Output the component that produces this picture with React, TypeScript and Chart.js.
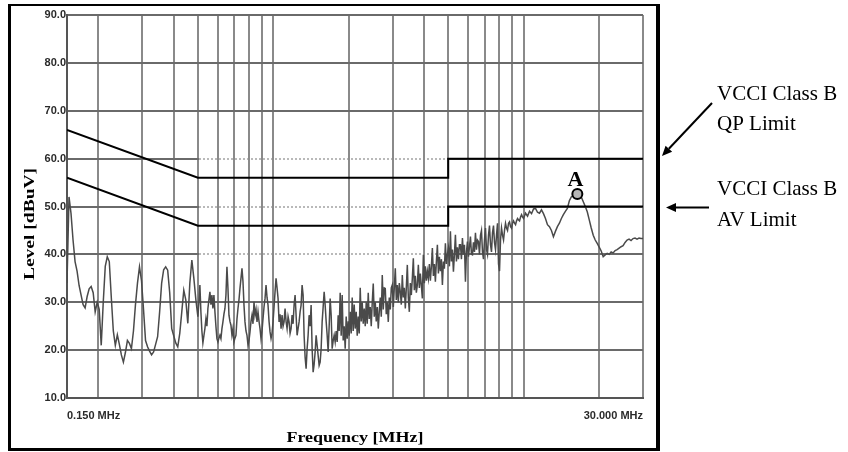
import React, { useEffect, useRef } from 'react';
import { Chart, registerables } from 'chart.js';

Chart.register(...registerables);

// ---- Receiver sweep bands (log sweep inside each band) ----
const BAND_LOW_MHZ = [0.15, 0.5];
const BAND_MID_MHZ = [0.5, 10];
const BAND_HIGH_MHZ = [10, 30];

const LEVELS_LOW = [
  34, 52, 48.5, 43, 38.5, 36.5, 33.5, 31.5, 29.5, 28.8, 31.2, 32.8, 33.3, 32, 28, 30, 28.5,
  21, 30, 37.5, 39.5, 38.5, 31, 24, 21, 23.2, 21.2, 19, 17.5, 19.5, 22, 21.4, 20.3, 24,
  29.5, 34, 37.4, 34.5, 28.5, 22, 20.7, 19.8, 19, 19.6, 21.2, 22.8, 28, 34, 36.8, 37.4,
  36.7, 32, 24.5, 23, 21.5, 20.7, 23.5, 28, 32.5, 30.5, 25.6, 34, 38.8, 35, 30.5, 27,
];
const LEVELS_MID = [
  27, 30, 33.6, 28, 24, 21.5, 23, 24.5, 26.5, 25, 28.7, 30.5, 32.2, 29.5, 31.5, 28.7, 31.5, 28, 25, 22.4,
  21.7, 22.5, 23.1, 22.4, 24.5, 25.9, 27.5, 28.7, 31.5, 37.4, 32.9, 27.3, 26, 25.2, 23.1, 24.5, 21.7, 22.5, 23.1, 26.5,
  28.7, 30.5, 32.9, 35, 37.1, 34.3, 29.4, 25.9, 24, 23.1, 21, 22, 23.8, 26, 27.3, 25.5, 30.1, 27.3, 28.5, 25.9,
  28, 26, 24.5, 22.4, 24, 26.6, 29, 30.8, 33.6, 31, 29.4, 26, 23.8, 22.4, 23.5, 25.9, 29, 32.2, 35, 33,
  30.8, 25.9, 27.5, 24.5, 27.3, 25, 25.9, 28.7, 26, 24.5, 27, 25.9, 23.5, 24.5, 27.3, 25.5, 29.4, 31.5, 27.3, 23.1,
  24.5, 25.9, 28, 29.4, 33.6, 31.5, 23.1, 18.5, 16.1, 20.3, 23.1, 27.3, 25, 29.4, 20.3, 15.4, 17, 19.6, 23.1, 21,
  18.9, 16.8, 17.5, 20.3, 25.9, 29, 32.2, 29.4, 26, 23.1, 19.6, 25, 30.8, 27.3, 20.3, 22, 23.1, 21.7, 24, 21.7,
  27.3, 24, 32, 23, 31.5, 22, 25, 20.3, 27, 22.4, 26, 23, 28, 23.5, 31, 24, 29.5, 24.5, 28, 23,
  27, 23.5, 33, 26, 30, 25.5, 28.7, 25, 30, 25.5, 32, 26.5, 29, 25, 30, 33.9, 27, 30, 26, 29,
  24.5, 28, 31, 27, 35.7, 28.5, 33, 32.9, 27.5, 30, 25.9, 31, 28.5, 33, 33.6, 29, 33, 37.1, 30.5, 33.6,
  30, 34, 32.2, 29.5, 35.7, 31, 33, 28.7, 33, 37.8, 31, 28, 34, 31.5, 35, 39.2, 32.5, 35.5, 32, 33.6,
  37.8, 33, 36, 33.5, 30.8, 39.9, 34, 37.5, 34.5, 36.5, 35, 38, 34.5, 37.5, 41.3, 35.5, 38, 34.3, 38.5, 42,
  36, 39.5, 36.5, 39, 33.6, 38.5, 37, 42.3, 38, 40, 41.3, 37.5, 44.8, 38.5, 41, 36.4, 40, 44.1, 38.5, 41.5,
  39, 42, 42, 39, 43.4, 40, 42, 34.3, 40.5, 42.7, 39.5, 41.5, 43.7, 40, 39.9, 42.5, 40.5, 44.5, 41, 43,
  42.7, 40, 44, 45, 40.5, 39, 43, 45.5, 41, 40, 44, 46, 42, 40.5, 44.5, 46, 42.5, 41, 44, 46.5,
  38, 36.5, 43, 45.5, 44, 43, 45, 46.5, 45.5, 45, 46.5, 46.8, 45.8, 45.5, 46.5, 47, 46.5, 46.2, 47, 47.5,
  47.2, 47, 47.8, 48.3, 47.8, 47.5,
];
const LEVELS_HIGH = [
  47.5, 48.6, 48, 49, 48.5, 49.5, 49.6, 48.8, 48.6, 49.3, 48.5, 47.5, 46.2, 45.8, 45, 43.7,
  44.8, 45.8, 46.5, 47.5, 48.3, 49, 49.6, 51.2, 52, 52.2, 52.4, 52.6, 52.4, 52, 51, 50, 48.9,
  47.2, 45.5, 44, 43, 42.3, 41.5, 40.7, 39.5, 39.9, 40.2, 40, 40.5, 40.3, 40.8, 41, 41.3,
  41.6, 41.8, 42.5, 43, 43.2, 42.9, 43.3, 43.4, 43.2, 43.4, 43.3, 43.3,
];

// VCCI Class B limits
const LIMIT_FREQS = [0.15, 0.5, 5, 5, 30];
const QP_LIMIT = [66, 56, 56, 60, 60];
const AV_LIMIT = [56, 46, 46, 50, 50];

// Marker A
const MARKER_FREQ = 16.4;
const MARKER_LEVEL = 52.6;
const MARKER_LABEL = 'A';

// Axes
const X_MIN = 0.15;
const X_MAX = 30;
const Y_TICKS = [10, 20, 30, 40, 50, 60, 70, 80, 90];
const X_GRID = [
  0.15, 0.2, 0.3, 0.4, 0.5, 0.6, 0.7, 0.8, 0.9, 1, 2, 3, 4, 5, 6, 7, 8, 9, 10, 20, 30,
];
// grid lines drawn dotted between these frequencies
const DOTTED_LEVELS = [40, 50, 60];
const DOTTED_FROM_MHZ = 0.5;
const DOTTED_TO_MHZ = 5;

const X_START_LABEL = '0.150 MHz';
const X_END_LABEL = '30.000 MHz';
const X_TITLE = 'Frequency [MHz]';
const Y_TITLE = 'Level [dBuV]';
const QP_TEXT = ['VCCI Class B', 'QP Limit'];
const AV_TEXT = ['VCCI Class B', 'AV Limit'];

const SANS = '"Liberation Sans", Arial, sans-serif';
const SERIF = '"Liberation Serif", "Times New Roman", serif';
const VGRID = '#8a8a8a';

function sweep(levels: number[], band: number[]) {
  const [f0, f1] = band;
  const n = levels.length;
  return levels.map((v, i) => ({ x: f0 * Math.pow(f1 / f0, i / (n - 1)), y: v }));
}

function arrow(ctx: CanvasRenderingContext2D, x1: number, y1: number, x2: number, y2: number) {
  const ang = Math.atan2(y2 - y1, x2 - x1);
  const hl = 10;
  const hw = 4.5;
  const bx = x2 - Math.cos(ang) * hl;
  const by = y2 - Math.sin(ang) * hl;
  ctx.beginPath();
  ctx.moveTo(x1, y1);
  ctx.lineTo(bx, by);
  ctx.lineWidth = 2;
  ctx.strokeStyle = '#000';
  ctx.stroke();
  ctx.beginPath();
  ctx.moveTo(x2, y2);
  ctx.lineTo(bx + Math.sin(ang) * hw, by - Math.cos(ang) * hw);
  ctx.lineTo(bx - Math.sin(ang) * hw, by + Math.cos(ang) * hw);
  ctx.closePath();
  ctx.fillStyle = '#000';
  ctx.fill();
}

const align = (p: number) => Math.round(p - 1) + 1;

const decorPlugin = {
  id: 'decor',
  beforeDatasetsDraw(chart: any) {
    const ctx: CanvasRenderingContext2D = chart.ctx;
    const xs = chart.scales.x;
    const ys = chart.scales.y;
    const x0 = align(xs.getPixelForValue(DOTTED_FROM_MHZ));
    const x1 = align(xs.getPixelForValue(DOTTED_TO_MHZ));
    ctx.save();
    for (const lv of DOTTED_LEVELS) {
      const y = align(ys.getPixelForValue(lv));
      ctx.fillStyle = '#fff';
      ctx.fillRect(x0 + 1, y - 1, x1 - x0 - 2, 2);
      ctx.strokeStyle = '#a2a2a2';
      ctx.lineWidth = 1.5;
      ctx.setLineDash([2, 2]);
      ctx.beginPath();
      ctx.moveTo(x0 + 1, y);
      ctx.lineTo(x1 - 1, y);
      ctx.stroke();
      ctx.setLineDash([]);
      ctx.strokeStyle = VGRID;
      ctx.lineWidth = 2;
      for (const f of X_GRID) {
        if (f > DOTTED_FROM_MHZ && f < DOTTED_TO_MHZ) {
          const px = align(xs.getPixelForValue(f));
          ctx.beginPath();
          ctx.moveTo(px, y - 1);
          ctx.lineTo(px, y + 1);
          ctx.stroke();
        }
      }
    }
    ctx.restore();
  },
  afterDraw(chart: any) {
    const ctx: CanvasRenderingContext2D = chart.ctx;
    const area = chart.chartArea;
    const xs = chart.scales.x;
    const ys = chart.scales.y;
    ctx.save();
    // outer frame
    ctx.fillStyle = '#000';
    ctx.fillRect(8, 4, 652, 2);
    ctx.fillRect(8, 4, 3, 447);
    ctx.fillRect(656, 4, 4, 447);
    ctx.fillRect(8, 448, 652, 3);

    // axis titles
    ctx.fillStyle = '#000';
    ctx.font = `bold 15px ${SERIF}`;
    ctx.textAlign = 'center';
    ctx.textBaseline = 'alphabetic';
    ctx.save();
    ctx.translate((area.left + area.right) / 2, 442);
    ctx.scale(1.2, 1);
    ctx.fillText(X_TITLE, 0, 0);
    ctx.restore();
    ctx.save();
    ctx.translate(34, 224);
    ctx.rotate(-Math.PI / 2);
    ctx.scale(1.3, 1);
    ctx.fillText(Y_TITLE, 0, 0);
    ctx.restore();

    // marker label
    const mx = xs.getPixelForValue(MARKER_FREQ);
    const my = ys.getPixelForValue(MARKER_LEVEL);
    ctx.font = `bold 22px ${SERIF}`;
    ctx.textAlign = 'center';
    ctx.fillText(MARKER_LABEL, mx - 2, my - 8);

    // right annotations
    ctx.font = `21px ${SERIF}`;
    ctx.textAlign = 'left';
    ctx.fillText(QP_TEXT[0], 717, 100);
    ctx.fillText(QP_TEXT[1], 717, 130);
    ctx.fillText(AV_TEXT[0], 717, 195);
    ctx.fillText(AV_TEXT[1], 717, 226);
    arrow(ctx, 712, 103, 662, 156);
    arrow(ctx, 709, 207.5, 666, 207.5);
    ctx.restore();
  },
};

export default function App() {
  const ref = useRef<HTMLCanvasElement | null>(null);
  useEffect(() => {
    if (!ref.current) return;
    const trace = [
      ...sweep(LEVELS_LOW, BAND_LOW_MHZ),
      ...sweep(LEVELS_MID, BAND_MID_MHZ).slice(1),
      ...sweep(LEVELS_HIGH, BAND_HIGH_MHZ).slice(1),
    ];
    const qp = LIMIT_FREQS.map((f, i) => ({ x: f, y: QP_LIMIT[i] }));
    const av = LIMIT_FREQS.map((f, i) => ({ x: f, y: AV_LIMIT[i] }));
    const chart = new Chart(ref.current, {
      type: 'line',
      data: {
        datasets: [
          {
            label: 'Marker A',
            data: [{ x: MARKER_FREQ, y: MARKER_LEVEL }],
            showLine: false,
            pointRadius: 5,
            pointBorderWidth: 2,
            pointBorderColor: '#000',
            pointBackgroundColor: '#b5b5b5',
            order: 0,
          },
          {
            label: 'QP Limit',
            data: qp,
            borderColor: '#000',
            borderWidth: 2,
            pointRadius: 0,
            order: 1,
          },
          {
            label: 'AV Limit',
            data: av,
            borderColor: '#000',
            borderWidth: 2,
            pointRadius: 0,
            order: 1,
          },
          {
            label: 'Level',
            data: trace,
            borderColor: '#4a4a4a',
            borderWidth: 1.5,
            pointRadius: 0,
            order: 2,
          },
        ],
      },
      options: {
        animation: false,
        responsive: false,
        devicePixelRatio: 1,
        layout: { padding: { top: 15, right: 205, bottom: 0, left: 0 } },
        plugins: { legend: { display: false }, tooltip: { enabled: false } },
        elements: { line: { tension: 0 } },
        scales: {
          x: {
            type: 'logarithmic',
            min: X_MIN,
            max: X_MAX,
            afterFit(s: any) {
              s.height = 54;
            },
            afterBuildTicks(s: any) {
              s.ticks = X_GRID.map((v) => ({ value: v }));
            },
            ticks: {
              autoSkip: false,
              maxRotation: 0,
              minRotation: 0,
              align: 'inner',
              padding: 11,
              color: '#2a2a2a',
              font: { family: SANS, size: 11, weight: 'bold' },
              callback(v: any) {
                const val = Number(v);
                if (val === X_MIN) return X_START_LABEL;
                if (val === X_MAX) return X_END_LABEL;
                return '';
              },
            },
            grid: { color: VGRID, lineWidth: 2, drawTicks: false },
            border: { display: true, color: '#555', width: 2 },
          },
          y: {
            type: 'linear',
            min: 10,
            max: 90,
            afterFit(s: any) {
              s.width = 67;
            },
            afterBuildTicks(s: any) {
              s.ticks = Y_TICKS.map((v) => ({ value: v }));
            },
            ticks: {
              padding: 1,
              color: '#2a2a2a',
              font: { family: SANS, size: 11, weight: 'bold' },
              callback(v: any) {
                return Number(v).toFixed(1);
              },
            },
            grid: { color: '#6a6a6a', lineWidth: 2, drawTicks: false },
            border: { display: true, color: '#555', width: 2 },
          },
        },
      } as any,
      plugins: [decorPlugin],
    });
    return () => chart.destroy();
  }, []);
  return (
    <div style={{ position: 'fixed', left: 0, top: 0, width: 848, height: 452, background: '#fff' }}>
      <canvas ref={ref} width={848} height={452} style={{ display: 'block' }} />
    </div>
  );
}
